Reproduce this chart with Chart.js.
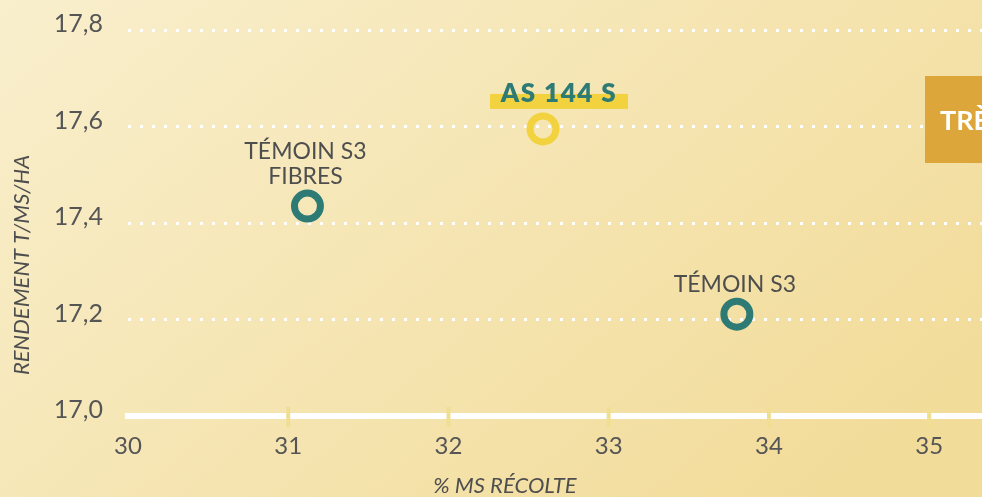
<!DOCTYPE html>
<html><head><meta charset="utf-8">
<script src="https://cdn.jsdelivr.net/npm/chart.js@4"></script>
<style>
html,body{margin:0;padding:0;background:#F5E6B4;}
#wrap{width:982px;height:497px;position:relative;}
</style></head>
<body><div id="wrap"><canvas id="c"></canvas></div>
<script>
const varieties = ['TÉMOIN S3\nFIBRES', 'AS 144 S', 'TÉMOIN S3'];
const msRecolte = [31.12, 32.59, 33.80];
const rendement = [17.435, 17.595, 17.211];
const pointColors = ['#2E7B76', '#F2D23E', '#2E7B76'];
const xTitle = '% MS RÉCOLTE';
const yTitle = 'RENDEMENT T/MS/HA';
const sideBanner = 'TRÈS';
const xMin = 30, xMax = 35.33, yMin = 17.0, yMax = 17.8;

const FONT = 'Lato, "Open Sans", sans-serif';
const TXT = '#4e4e4e';

const bgPlugin = {
  id: 'bg',
  beforeDraw(chart) {
    const {ctx, width, height} = chart;
    const g = ctx.createLinearGradient(0, 0, width * 0.6, height * 1.4);
    g.addColorStop(0, '#F9EFCD');
    g.addColorStop(1, '#F2DC9A');
    ctx.save();
    ctx.fillStyle = g;
    ctx.fillRect(0, 0, width, height);
    ctx.restore();
  }
};

const decorPlugin = {
  id: 'decor',
  afterDraw(chart) {
    const {ctx} = chart;
    const xs = chart.scales.x, ys = chart.scales.y;
    ctx.save();
    // axis tick bars
    ctx.fillStyle = '#F0DF92';
    xs.ticks.forEach(t => {
      if (t.value === xMin) return;
      const px = xs.getPixelForValue(t.value);
      ctx.fillRect(px - 2, ys.bottom - 9, 4, 20);
    });
    // titles
    ctx.fillStyle = TXT;
    ctx.font = 'italic 22px ' + FONT;
    ctx.textAlign = 'center';
    ctx.textBaseline = 'alphabetic';
    ctx.fillText(xTitle, 505, 493);
    ctx.save();
    ctx.translate(29, 265);
    ctx.rotate(-Math.PI / 2);
    ctx.font = 'italic 22px ' + FONT;
    ctx.fillText(yTitle, 0, 0);
    ctx.restore();
    // banner
    ctx.fillStyle = '#DCA63A';
    ctx.fillRect(925, 76, 80, 87);
    ctx.fillStyle = '#FFFFFF';
    ctx.font = 'bold 27px ' + FONT;
    ctx.textAlign = 'left';
    ctx.fillText(sideBanner, 940, 130);
    // point labels
    const meta = chart.getDatasetMeta(0);
    meta.data.forEach((pt, i) => {
      const name = varieties[i];
      if (i === 1) {
        ctx.fillStyle = '#F2D23E';
        ctx.fillRect(pt.x - 53, pt.y - 35, 138, 15);
        ctx.fillStyle = '#2E7B76';
        ctx.font = '800 26px ' + FONT;
        ctx.letterSpacing = '1.5px';
        ctx.textAlign = 'center';
        ctx.fillText(name, pt.x + 16, pt.y - 27);
        ctx.letterSpacing = '0px';
      } else {
        const lines = name.split('\n');
        ctx.fillStyle = TXT;
        ctx.font = '23px ' + FONT;
        ctx.textAlign = 'center';
        lines.forEach((ln, k) => {
          const by = pt.y - 22 - (lines.length - 1 - k) * 25;
          ctx.fillText(ln, pt.x - 2, by);
        });
      }
    });
    ctx.restore();
  }
};

new Chart(document.getElementById('c'), {
  type: 'scatter',
  data: {
    datasets: [{
      data: msRecolte.map((x, i) => ({x, y: rendement[i]})),
      pointRadius: 13,
      pointHoverRadius: 13,
      pointBorderWidth: 7,
      pointHoverBorderWidth: 7,
      pointBorderColor: pointColors,
      pointBackgroundColor: 'rgba(0,0,0,0)'
    }]
  },
  options: {
    responsive: true,
    maintainAspectRatio: false,
    animation: false,
    events: [],
    layout: {autoPadding: false, padding: {top: 30, right: 0, left: 0, bottom: 0}},
    plugins: {legend: {display: false}, tooltip: {enabled: false}},
    scales: {
      x: {
        type: 'linear', min: xMin, max: xMax,
        afterFit(s) { s.height = 81; s.paddingLeft = 0; s.paddingRight = 0; },
        ticks: {stepSize: 1, includeBounds: false, padding: 16, color: '#555',
          font: {family: FONT, size: 24}},
        grid: {display: true, drawOnChartArea: false, drawTicks: false},
        border: {display: true, color: '#FFFFFF', width: 6}
      },
      y: {
        type: 'linear', min: yMin, max: yMax,
        afterFit(s) { s.width = 128; s.paddingTop = 0; s.paddingBottom = 0; },
        ticks: {stepSize: 0.2, padding: 25, color: '#555', labelOffset: -6,
          font: {family: FONT, size: 25},
          callback: v => v.toFixed(1).replace('.', ',')},
        grid: {color: '#FFFFFF', lineWidth: 3, drawTicks: false},
        border: {display: false, dash: [3, 9]}
      }
    }
  },
  plugins: [bgPlugin, decorPlugin]
});
</script></body></html>
